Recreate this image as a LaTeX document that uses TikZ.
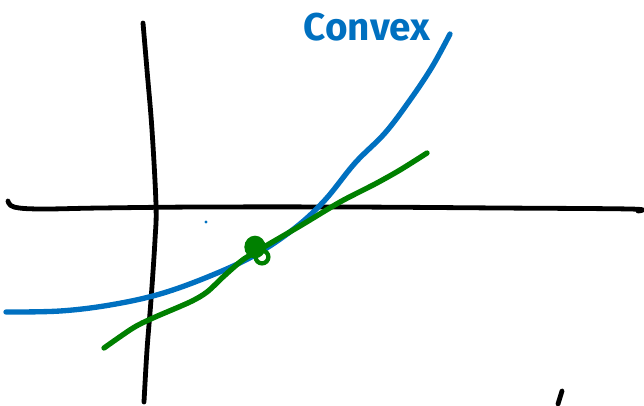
\documentclass[tikz,border=0pt]{standalone}
\usepackage{fontspec}
\newfontfamily\labelfont{Fira Sans}
\definecolor{inkblue}{RGB}{0,112,192}
\definecolor{inkgreen}{RGB}{0,128,0}
\tikzset{
  axisline/.style={line width=3.6pt, line cap=round, line join=round, black},
  bluecurve/.style={line width=4pt, line cap=round, line join=round, inkblue},
  greencurve/.style={line width=4pt, line cap=round, line join=round, inkgreen},
}
\begin{document}
\begin{tikzpicture}[x=0.75pt,y=-0.75pt]
\useasboundingbox (0,0) rectangle (644,405);
% vertical axis
\draw[axisline] plot[smooth,tension=0.6] coordinates {(143,23) (147,70) (152,130) (156,205) (155,240) (151,300) (147,350) (144,402)};
% horizontal axis
\draw[axisline] plot[smooth,tension=0.6] coordinates {(8,201) (14,207) (40,209) (100,208) (200,207) (350,207) (500,208) (630,209) (638,211)};
% blue convex curve
\draw[bluecurve] plot[smooth,tension=0.6] coordinates {(6,312) (60,311) (110,305) (160,294) (210,276) (255,255) (295,228) (325,200) (355,163) (385,133) (410,100) (432,67) (450,34)};
% green tangent line
\draw[greencurve] plot[smooth,tension=0.5] coordinates {(104,348) (133,328) (153,318) (190,302) (207,292) (223,277) (240,262) (252,254) (300,226) (340,202) (375,184) (400,170) (427,153)};
% green blob at tangent point
\fill[inkgreen] (255,247) ellipse (8pt and 8.5pt);
\draw[inkgreen, line width=3.2pt] (262,257) circle (4.8pt);
% small blue dot
\fill[inkblue] (206,222) circle (1.3pt);
% bottom right tick
\draw[axisline] (558,404) -- (562,391);
% label
\node[inkblue, font=\labelfont\bfseries\fontsize{29}{29}\selectfont, anchor=center] (lbl) at (367,27) {Convex};
\end{tikzpicture}
\end{document}
